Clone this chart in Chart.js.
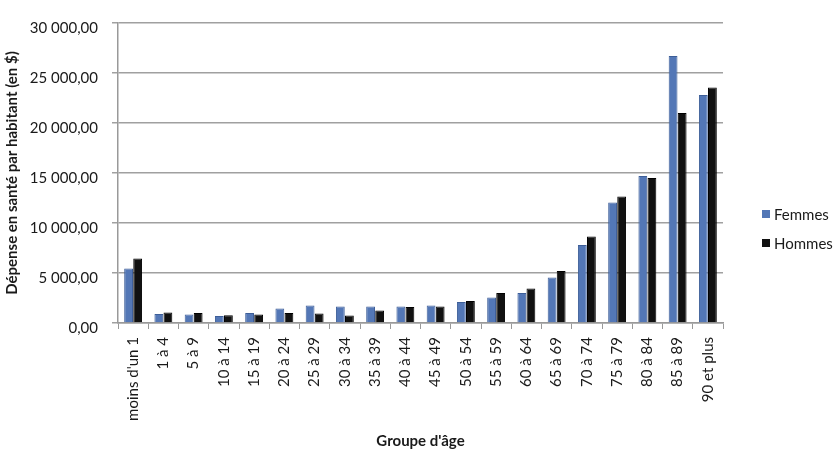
<!DOCTYPE html>
<html><head><meta charset="utf-8">
<script src="https://cdn.jsdelivr.net/npm/chart.js@4"></script>
<style>html,body{margin:0;padding:0;background:#fff}#w{width:836px;height:450px}</style>
</head><body><div id="w"><canvas id="c" width="836" height="450"></canvas></div>
<script>
const categories = ["moins d'un 1","1 à 4","5 à 9","10 à 14","15 à 19","20 à 24","25 à 29","30 à 34","35 à 39","40 à 44","45 à 49","50 à 54","55 à 59","60 à 64","65 à 69","70 à 74","75 à 79","80 à 84","85 à 89","90 et plus"];
const femmes = [5450, 900, 850, 700, 1000, 1450, 1750, 1650, 1650, 1650, 1750, 2100, 2550, 3000, 4550, 7800, 12050, 14700, 26700, 22800];
const hommes = [6450, 1050, 1000, 780, 850, 1000, 950, 750, 1250, 1600, 1650, 2200, 3000, 3450, 5200, 8650, 12650, 14500, 21000, 23550];
const seriesNames = ["Femmes", "Hommes"];
const yMin = 0, yMax = 30000, yStep = 5000;
const yTitle = "Dépense en santé par habitant (en $)";
const xTitle = "Groupe d'âge";

function fmt(v){
  return Math.round(v).toString().replace(/\B(?=(\d{3})+(?!\d))/g, ' ') + ',00';
}

const sideLegend = {
  id: 'sideLegend',
  afterDraw(chart){
    const ctx = chart.ctx;
    ctx.save();
    chart.data.datasets.forEach((ds, i) => {
      const y = 214 + i * 29;
      ctx.fillStyle = ds.backgroundColor;
      ctx.fillRect(762, y - 4, 8, 8);
      ctx.fillStyle = '#1a1a1a';
      ctx.font = '15px Lato';
      ctx.textBaseline = 'middle';
      ctx.textAlign = 'left';
      ctx.fillText(ds.label, 774, y + 1);
    });
    ctx.restore();
  }
};

new Chart(document.getElementById('c'), {
  type: 'bar',
  data: {
    labels: categories,
    datasets: [
      { label: seriesNames[0], data: femmes, backgroundColor: '#5377B6', borderColor: '#3D5E98', borderWidth: 1 },
      { label: seriesNames[1], data: hommes, backgroundColor: '#111111', borderColor: '#000000', borderWidth: 1 }
    ]
  },
  options: {
    responsive: false,
    devicePixelRatio: 1,
    animation: false,
    categoryPercentage: 0.6,
    barPercentage: 0.97,
    layout: { padding: { top: 9, right: 113, bottom: 0, left: 0 } },
    plugins: { legend: { display: false }, tooltip: { enabled: false } },
    scales: {
      x: {
        offset: true,
        grid: { display: true, drawOnChartArea: false, drawTicks: true, tickLength: 6, color: '#999', offset: true },
        border: { display: true, color: '#999', width: 1.5 },
        ticks: { minRotation: 90, maxRotation: 90, autoSkip: false, padding: 8, color: '#1a1a1a', font: { family: 'Lato', size: 15 } },
        title: { display: true, text: xTitle, color: '#1a1a1a', font: { family: 'Lato', size: 15, weight: 'bold' }, padding: { top: 2, bottom: 0 } },
        afterFit(s){ s.height = 127; }
      },
      y: {
        min: yMin, max: yMax,
        grid: { color: '#a0a0a0', lineWidth: 1.5, tickLength: 6 },
        border: { display: true, color: '#999', width: 1.5 },
        ticks: { stepSize: yStep, padding: 14, labelOffset: 5, color: '#1a1a1a', font: { family: 'Lato', size: 15 }, callback: (v) => fmt(v) },
        title: { display: true, text: yTitle, color: '#1a1a1a', font: { family: 'Lato', size: 15, weight: 'bold' }, padding: { top: 3, bottom: 0 } },
        afterFit(s){ s.width = 118; }
      }
    }
  },
  plugins: [sideLegend]
});
</script>
</body></html>
